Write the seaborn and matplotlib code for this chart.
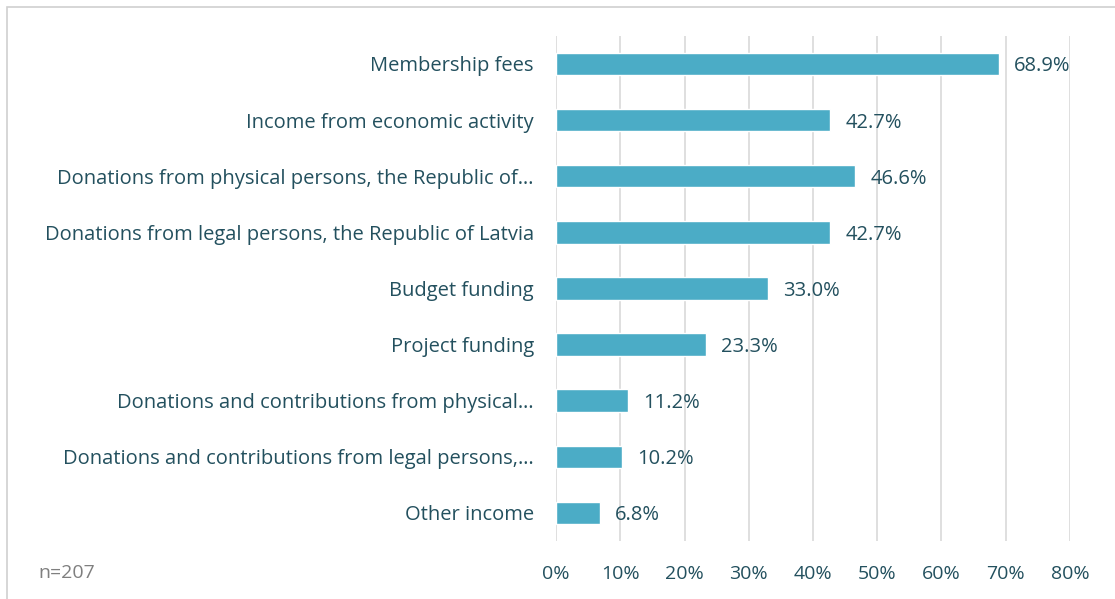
import matplotlib
matplotlib.use("Agg")
import matplotlib.pyplot as plt
import matplotlib.patches as mpatches
import pandas as pd
import seaborn as sns
from matplotlib.ticker import PercentFormatter

categories = [
    "Membership fees",
    "Income from economic activity",
    "Donations from physical persons, the Republic of…",
    "Donations from legal persons, the Republic of Latvia",
    "Budget funding",
    "Project funding",
    "Donations and contributions from physical…",
    "Donations and contributions from legal persons,…",
    "Other income",
]
shares = [68.9, 42.7, 46.6, 42.7, 33.0, 23.3, 11.2, 10.2, 6.8]
x_ticks = [0, 10, 20, 30, 40, 50, 60, 70, 80]
note = "n=207"

BAR = "#4bacc6"
TEXT = "#23505e"
GRID = "#d9d9d9"

sns.set_style("white")
plt.rcParams["font.family"] = ["Open Sans", "DejaVu Sans"]

df = pd.DataFrame({"category": categories, "share": shares})

fig = plt.figure(figsize=(11.15, 5.99), dpi=100)
ax = fig.add_axes([0.4987, 0.0968, 0.4609, 0.8432])

sns.barplot(data=df, x="share", y="category", orient="h", color=BAR,
            width=0.4, saturation=1, ax=ax)

ax.set_xlim(0, 80)
ax.set_ylim(len(categories) - 0.5, -0.5)
ax.set_xticks(x_ticks)
ax.xaxis.set_major_formatter(PercentFormatter(decimals=0))
ax.grid(axis="x", color=GRID, linewidth=1.2)
ax.set_axisbelow(True)
for s in ax.spines.values():
    s.set_visible(False)
ax.tick_params(axis="x", length=0, pad=17, labelsize=14, labelcolor=TEXT)
ax.tick_params(axis="y", length=0, pad=16, labelsize=14.5, labelcolor=TEXT)
ax.set_xlabel("")
ax.set_ylabel("")

for i, v in enumerate(shares):
    ax.annotate(f"{v:.1f}%", (v, i), xytext=(11, 0), textcoords="offset points",
                va="center_baseline", ha="left", fontsize=14.5, color=TEXT)

fig.text(38 / 1115, 1 - 573 / 599, note, fontsize=14, color="#7f7f7f",
         va="center", ha="left")

fig.patches.append(mpatches.Rectangle((7 / 1115, -0.01), 1.2, 1 - 7 / 599 + 0.01,
                                      transform=fig.transFigure, fill=False,
                                      edgecolor="#d0d0d0", linewidth=1.2))

fig.savefig("out.png", dpi=100)
